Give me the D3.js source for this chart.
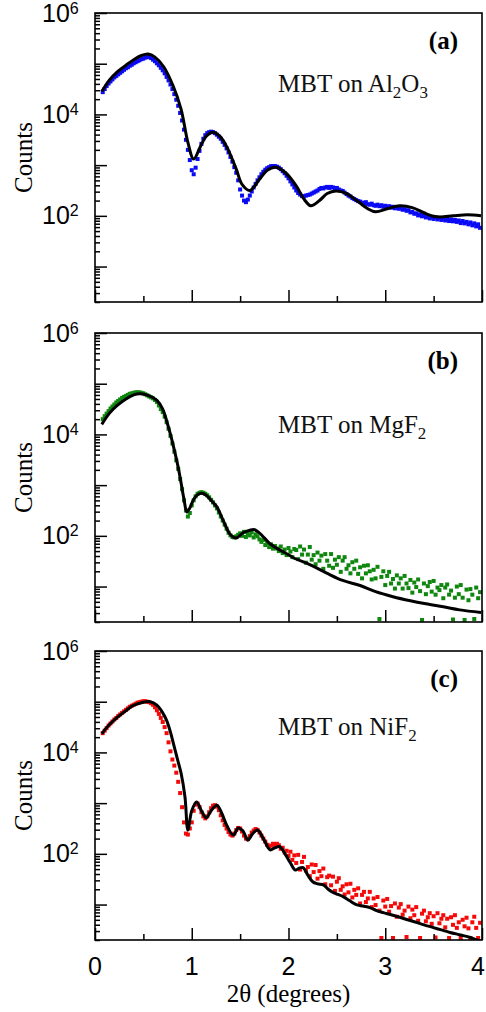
<!DOCTYPE html>
<html><head><meta charset="utf-8">
<script src="https://cdn.jsdelivr.net/npm/d3@7"></script>
<style>body{margin:0;background:#fff}svg{display:block}</style>
</head><body><svg id="chart" width="486" height="1012"></svg>
<script>
// 2θ (degrees) of the measured points
const angle = [
0.08,0.10,0.12,0.14,0.16,0.18,0.20,0.22,0.24,0.26,
0.28,0.30,0.32,0.34,0.36,0.38,0.40,0.42,0.44,0.46,
0.48,0.50,0.52,0.54,0.56,0.58,0.60,0.62,0.64,0.66,
0.68,0.70,0.72,0.74,0.76,0.78,0.80,0.82,0.84,0.86,
0.88,0.90,0.92,0.94,0.96,0.98,1.00,1.02,1.04,1.06,
1.08,1.10,1.12,1.14,1.16,1.18,1.20,1.22,1.24,1.26,
1.28,1.30,1.32,1.34,1.36,1.38,1.40,1.42,1.44,1.46,
1.48,1.50,1.52,1.54,1.56,1.58,1.60,1.62,1.64,1.66,
1.68,1.70,1.72,1.74,1.76,1.78,1.80,1.82,1.84,1.86,
1.88,1.90,1.92,1.94,1.96,1.98,2.00,2.02,2.04,2.06,
2.08,2.10,2.12,2.14,2.16,2.18,2.20,2.22,2.24,2.26,
2.28,2.30,2.32,2.34,2.36,2.38,2.40,2.42,2.44,2.46,
2.48,2.50,2.52,2.54,2.56,2.58,2.60,2.62,2.64,2.66,
2.68,2.70,2.72,2.74,2.76,2.78,2.80,2.82,2.84,2.86,
2.88,2.90,2.92,2.94,2.96,2.98,3.00,3.02,3.04,3.06,
3.08,3.10,3.12,3.14,3.16,3.18,3.20,3.22,3.24,3.26,
3.28,3.30,3.32,3.34,3.36,3.38,3.40,3.42,3.44,3.46,
3.48,3.50,3.52,3.54,3.56,3.58,3.60,3.62,3.64,3.66,
3.68,3.70,3.72,3.74,3.76,3.78,3.80,3.82,3.84,3.86,
3.88,3.90,3.92,3.94,3.96,3.98];

// measured counts, MBT on Al2O3
const countsA = [
2.75e4,3.16e4,3.63e4,4.07e4,4.47e4,4.9e4,5.37e4,5.75e4,6.17e4,6.61e4,
7.08e4,7.59e4,8.13e4,8.51e4,9.12e4,9.55e4,1.02e5,1.07e5,1.12e5,1.17e5,
1.23e5,1.26e5,1.32e5,1.35e5,1.35e5,1.29e5,1.2e5,1.12e5,1.02e5,9.33e4,
8.32e4,7.41e4,6.46e4,5.5e4,4.68e4,3.89e4,3.16e4,2.51e4,1.95e4,1.48e4,
1.07e4,7590,5010,3160,2000,1260,794,661,891,1320,
1910,2630,3310,3890,4270,4470,4570,4470,4270,3980,
3630,3310,2880,2510,2140,1780,1450,1170,912,708,
501,331,251,200,186,209,251,302,363,427,
501,575,661,741,813,871,912,955,955,955,
933,891,832,759,692,617,550,479,417,363,
316,282,263,245,240,251,257,263,275,288,
302,316,339,355,347,363,372,355,372,363,
347,355,331,316,309,288,269,251,240,224,
214,204,195,191,182,178,186,170,166,174,
162,158,166,155,162,151,158,148,155,145,
151,141,148,138,141,132,135,126,129,117,
120,110,112,102,107,98,102,93,98,89,
95,87,93,85,91,83,89,81,87,79,
85,78,83,76,81,72,79,71,76,68,
74,65,71,62,68,58];

// measured counts, MBT on MgF2
const countsB = [
2.0e4,2.29e4,2.57e4,2.88e4,3.24e4,3.55e4,3.89e4,4.27e4,4.57e4,4.9e4,
5.25e4,5.5e4,5.75e4,6.03e4,6.31e4,6.46e4,6.61e4,6.76e4,6.76e4,6.76e4,
6.61e4,6.46e4,6.17e4,5.89e4,5.62e4,5.37e4,5.13e4,4.79e4,4.37e4,3.72e4,
3.16e4,2.75e4,2.24e4,1.74e4,1.29e4,9330,6610,4570,3090,2090,
1320,832,501,316,240,282,398,501,603,676,
708,724,708,676,631,575,513,457,398,347,
288,240,200,166,138,115,102,95,93,98,
105,112,100,120,95,112,102,117,93,107,
98,85,76,83,66,72,60,68,56,63,
56.2,50.1,61.7,45.7,53.7,41.7,57.5,49,38,55,
52.5,34.7,61.7,42.7,53.7,29.5,42.7,60.3,33.9,41.7,
27.5,46.8,32.4,40.7,22.4,43.7,32.4,25.7,43.7,23.4,
33.9,26.9,38,19.5,32.4,38,22.4,26.3,18.2,30.2,
22.4,32.4,17.8,24,14.5,25.7,18.2,26.3,20,13.8,
21.4,14.5,24.5,2.29,15.5,20,10.7,16.2,19.5,11.5,
14.1,9.12,16.6,11.5,14.5,9.12,16.2,11.5,9.33,13.5,
7.59,12,9.77,13.8,8.13,2.19,11.5,7.08,10.2,12.3,
7.94,12.9,6.92,9.55,8.51,10.7,5.89,9.55,11,6.92,
8.32,2.24,6.03,10,7.08,10.7,6.03,2.19,8.71,5.37,
8.91,6.92,2.29,9.55,5.89,7.76];

// measured counts, MBT on NiF2
const countsC = [
2.4e4,2.69e4,3.02e4,3.39e4,3.72e4,4.07e4,4.47e4,4.79e4,5.25e4,5.62e4,
6.03e4,6.46e4,6.92e4,7.41e4,7.94e4,8.32e4,8.71e4,9.12e4,9.55e4,9.77e4,
1e5,1.02e5,1.02e5,1e5,9.77e4,9.33e4,8.71e4,7.76e4,6.76e4,5.75e4,
4.79e4,3.98e4,3.16e4,2.4e4,1.58e4,1.05e4,7240,5500,3980,2630,
1580,832,417,251,240,316,417,708,933,977,
832,661,550,501,550,661,794,891,912,851,
724,575,457,372,316,269,240,229,251,295,
324,316,275,229,200,195,224,263,288,309,
295,263,229,200,174,151,138,145,158,151,
158,148,126,132,107,115,91.2,110,75.9,93.3,
66.1,95.5,49,69.2,87.1,46.8,55,36.3,61.7,43.7,
60.3,32.4,45.7,36.3,51.3,25.1,34.7,37.2,24,35.5,
18.6,28.2,33.1,19.5,22.9,15.8,25.1,17.4,25.7,13.8,
19.5,15.5,20.9,10.5,15.5,17.8,11.2,13.2,17.8,8.91,
13.2,9.77,14.1,7.59,2.19,12,9.12,12.9,7.24,9.33,
2.19,10.5,5.75,8.71,10.2,6.31,7.59,2.29,9.12,5.37,
7.94,6.17,8.91,4.79,2.19,6.61,7.59,4.68,5.62,6.76,
4.17,5.89,2.24,6.76,4.27,5.25,6.17,3.55,5.25,2.19,
5.62,3.98,6.17,3.47,4.47,2.19,5.01,3.72,5.5,3.39,
2.19,4.47,5.75,3.47,2.19,4.37];

// fitted curves
const fitAngleA = [0.07,0.15,0.23,0.32,0.40,0.48,0.55,0.62,0.71,0.81,0.89,0.96,1.02,1.09,1.15,1.22,1.29,1.36,1.46,1.52,1.60,1.70,1.78,1.87,1.97,2.08,2.16,2.23,2.32,2.40,2.49,2.60,2.72,2.82,2.90,3.02,3.15,3.28,3.40,3.50,3.57,3.70,3.85,3.99];
const fitCountsA = [2.82e4,4.79e4,6.92e4,9.33e4,1.2e5,1.45e5,1.55e5,1.35e5,8.71e4,3.55e4,1.26e4,2820,1320,2340,3720,4470,3720,2340,832,417,316,525,794,912,708,389,214,158,200,275,309,275,191,138,120,138,158,145,115,98,95,100,105,100];
const fitAngleB = [0.07,0.15,0.23,0.32,0.40,0.47,0.55,0.64,0.70,0.74,0.78,0.82,0.86,0.89,0.92,0.95,0.98,1.02,1.06,1.10,1.15,1.20,1.26,1.33,1.40,1.46,1.53,1.60,1.65,1.72,1.80,1.87,1.96,2.05,2.22,2.39,2.56,2.74,2.90,3.08,3.26,3.42,3.60,3.77,3.99];
const fitCountsB = [1.58e4,2.63e4,3.72e4,5.01e4,6.03e4,6.31e4,5.89e4,4.68e4,3.16e4,1.86e4,1e4,4900,2240,1100,525,295,355,525,646,692,631,501,372,191,105,91,115,129,132,105,72,58,47,37,27,18.6,13.2,10.5,7.94,6.31,5.25,4.57,3.98,3.47,3.09];
const fitAngleC = [0.07,0.15,0.23,0.31,0.39,0.48,0.57,0.64,0.70,0.74,0.78,0.81,0.85,0.89,0.93,0.96,1.00,1.05,1.10,1.15,1.20,1.26,1.31,1.36,1.43,1.48,1.53,1.58,1.63,1.68,1.74,1.81,1.86,1.91,1.97,2.02,2.07,2.11,2.15,2.20,2.25,2.30,2.36,2.41,2.46,2.51,2.56,2.63,2.70,2.77,2.84,2.91,2.98,3.06,3.15,3.23,3.32,3.40,3.49,3.58,3.67,3.78,3.88,3.95,4.0];
const fitCountsC = [2.34e4,3.55e4,4.9e4,6.46e4,8.32e4,9.55e4,1e5,8.51e4,6.03e4,4.27e4,2.51e4,1.51e4,7590,3890,1320,295,708,1050,708,513,708,912,631,372,234,324,282,186,251,295,200,120,132,138,95.5,66.1,48,52,53.7,38,28.2,25.7,24.5,20,17.4,15.8,14.5,12,10,9.33,8.71,7.59,6.92,6.31,5.62,5.01,4.47,3.98,3.55,3.16,2.82,2.51,2.24,2,1.86];

const panelTags = ["(a)","(b)","(c)"];
const sampleLabels = [["MBT on Al","2","O","3"],["MBT on MgF","2"],["MBT on NiF","2"]];
const seriesColors = ["#0a0af5","#0f870f","#f50a0a"];
const xTickLabels = ["0","1","2","3","4"];
const yTickExponents = ["6","4","2"];

const svg = d3.select("#chart");
const left = 95, right = 482, ph = 289;
const tops = [13, 333, 651];
const x = d3.scaleLinear().domain([0,4]).range([left,right]);
const datasets = [countsA, countsB, countsC];
const fits = [[fitAngleA,fitCountsA],[fitAngleB,fitCountsB],[fitAngleC,fitCountsC]];

const majors = [1e1,1e2,1e3,1e4,1e5,1e6];
const minors = [];
for (let k=0;k<6;k++) for (let m=2;m<=9;m++){ const v=m*Math.pow(10,k); if (v>=2 && v<1e6) minors.push(v); }

tops.forEach((top,i)=>{
  const y = d3.scaleLog().domain([2,1e6]).range([top+ph, top]);
  const g = svg.append("g");
  const cid = "clip"+i;
  svg.append("clipPath").attr("id",cid).append("rect")
    .attr("x",left).attr("y",top).attr("width",right-left).attr("height",ph);

  // data squares
  const pts = angle.map((a,j)=>[a, datasets[i][j]]).filter(d=>d[1]!=null);
  g.append("g").attr("clip-path",`url(#${cid})`)
    .selectAll("rect").data(pts).join("rect")
    .attr("x",d=>x(d[0])-2).attr("y",d=>y(d[1])-2)
    .attr("width",4).attr("height",4).attr("fill",seriesColors[i]);

  // fit line
  const [fa,fc] = fits[i];
  const line = d3.line().x(d=>x(d[0])).y(d=>y(d[1])).curve(d3.curveCatmullRom.alpha(0.5));
  g.append("path").attr("clip-path",`url(#${cid})`)
    .datum(fa.map((a,j)=>[a,fc[j]]))
    .attr("d",line).attr("fill","none").attr("stroke","#000").attr("stroke-width",3)
    .attr("stroke-linejoin","round");

  // y axis ticks (inward)
  const yMaj = d3.axisLeft(y).tickValues(majors).tickSize(-12).tickFormat("");
  const yMin = d3.axisLeft(y).tickValues(minors).tickSize(-5).tickFormat("");
  [yMaj,yMin].forEach(ax=>{
    const a = g.append("g").attr("transform",`translate(${left},0)`).call(ax);
    a.select(".domain").remove();
    a.selectAll("line").attr("stroke","#000").attr("stroke-width",1.5);
  });
  // x axis ticks (inward)
  const xMaj = d3.axisBottom(x).tickValues([0,1,2,3,4]).tickSize(-12).tickFormat("");
  const xMin = d3.axisBottom(x).tickValues([0.5,1.5,2.5,3.5]).tickSize(-6).tickFormat("");
  [xMaj,xMin].forEach(ax=>{
    const a = g.append("g").attr("transform",`translate(0,${top+ph})`).call(ax);
    a.select(".domain").remove();
    a.selectAll("line").attr("stroke","#000").attr("stroke-width",1.5);
  });

  // frame
  g.append("rect").attr("x",left).attr("y",top).attr("width",right-left).attr("height",ph)
    .attr("fill","none").attr("stroke","#000").attr("stroke-width",1.6);

  // y tick labels 10^n
  yTickExponents.forEach(e=>{
    const v = Math.pow(10,+e);
    const t = g.append("text").attr("x",42).attr("y",y(v)+8.5)
      .attr("font-family","'Liberation Sans',Arial,sans-serif").attr("font-size",25).attr("fill","#000");
    t.append("tspan").text("10");
    t.append("tspan").attr("font-size",16).attr("dy",-8).text(e);
  });

  // y title
  g.append("text").attr("transform",`translate(32,${top+ph/2}) rotate(-90)`)
    .attr("text-anchor","middle").attr("font-family","'Liberation Serif','Times New Roman',serif")
    .attr("font-size",25).text("Counts");

  // panel tag
  g.append("text").attr("x",458).attr("y",top+36).attr("text-anchor","end")
    .attr("font-family","'Liberation Serif','Times New Roman',serif").attr("font-weight","bold")
    .attr("font-size",25).text(panelTags[i]);

  // sample label with subscripts
  const labY = [top+79, top+100, top+84][i];
  const lt = g.append("text").attr("x",278).attr("y",labY)
    .attr("font-family","'Liberation Serif','Times New Roman',serif").attr("font-size",25).attr("fill","#111");
  sampleLabels[i].forEach((s,k)=>{
    const sub = k%2===1;
    lt.append("tspan").attr("font-size",sub?17:25).attr("dy",k===0?0:(sub?6:-6)).text(s);
  });

  if (i===2){
    xTickLabels.forEach((s,k)=>{
      g.append("text").attr("x",Math.min(x(k),478)).attr("y",top+ph+35).attr("text-anchor","middle")
        .attr("font-family","'Liberation Sans',Arial,sans-serif").attr("font-size",25).text(s);
    });
    g.append("text").attr("x",(left+right)/2).attr("y",1002).attr("text-anchor","middle")
      .attr("font-family","'Liberation Serif','Times New Roman',serif").attr("font-size",25)
      .text("2θ (degrees)");
  }
});
</script></body></html>
